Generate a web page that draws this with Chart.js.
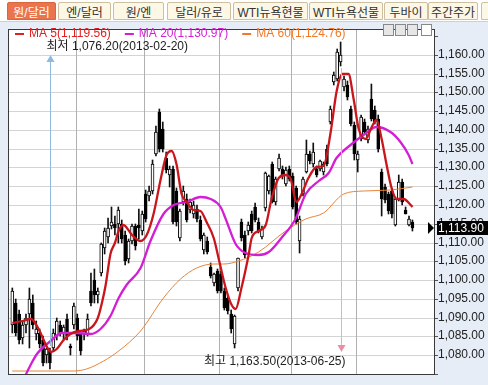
<!DOCTYPE html>
<html lang="ko">
<head>
<meta charset="utf-8">
<title>원/달러</title>
<script src="https://cdn.jsdelivr.net/npm/chart.js@4.4.1/dist/chart.umd.min.js"></script>
<style>
  body { margin: 0; background: #e7edf6; }
  #wrap { position: relative; width: 488px; height: 385px; overflow: hidden; }
  #myChart { position: absolute; left: 0; top: 0; }
  #tabs { position: absolute; left: 0; top: 0; width: 488px; height: 21px; background: #fff; border-bottom: 1px solid #cfcfcf; }
  .tab { position: absolute; top: 2px; height: 18px; line-height: 17px; box-sizing: border-box; border: 1px solid #cdbf9f; border-radius: 2px 2px 0 0; background: #fdf7e6; color: #333; font: 12px "Liberation Sans", "Noto Sans CJK KR", sans-serif; text-align: center; white-space: nowrap; overflow: hidden; }
  .tab.on { background: #e9744d; border-color: #d8663f; color: #fff; }
  .tool { position: absolute; top: 24px; width: 11px; height: 12px; box-sizing: border-box; border: 1px solid #888; background: #e6e6e6; }
  .tool.blank { background: #fff; }
</style>
</head>
<body>
<div id="wrap">
  <canvas id="myChart" width="488" height="385"></canvas>
  <div id="tabs"></div>
</div>
<script>
// daily candles, Feb 1 2013 .. Jul 23 2013 (trading days)
const opens = [
  1088, 1094, 1091, 1084.5, 1088, 1091, 1094, 1085.5, 1086, 1084,
  1080, 1081, 1082, 1085, 1088, 1086, 1089.5, 1082.5, 1088, 1090,
  1085.5, 1085.5, 1085.5, 1097, 1100, 1096, 1102, 1108.5, 1111.5, 1114.5,
  1115, 1115, 1115, 1112, 1105.5, 1110.5, 1114.3, 1114.8, 1113, 1123,
  1122.3, 1123.6, 1133.7, 1144.9, 1140.3, 1132.4, 1128.1, 1129.7, 1123.6, 1111.1,
  1120.9, 1121.7, 1118.8, 1117.5, 1119, 1116, 1108.1, 1110.3, 1103.6, 1099.1,
  1102.3, 1101.5, 1097, 1095.1, 1091, 1082.9, 1097.8, 1115.6, 1112.1, 1113,
  1117.7, 1119.6, 1115.6, 1111.6, 1119.1, 1123.6, 1130.8, 1120.9, 1129.7, 1129.7,
  1125.7, 1129.7, 1127.6, 1124.4, 1110.3, 1123, 1128.9, 1133.7, 1130.8, 1129.7,
  1129.7, 1128.9, 1135, 1142.2, 1152.8, 1153.6, 1158, 1151.5, 1152, 1145.6,
  1141.4, 1132.1, 1137.7, 1142.2, 1137.4, 1148.3, 1145.4, 1143, 1128.9, 1124.9,
  1122.8, 1123.6, 1114.8, 1121.7, 1126.2, 1118.8, 1114.8, 1115.6
];
const highs = [
  1098, 1095, 1092, 1089, 1091, 1098, 1096, 1089, 1087, 1085,
  1082, 1082, 1087, 1090, 1089, 1088, 1091, 1083, 1094, 1091,
  1086, 1087, 1091, 1102, 1103, 1098, 1110, 1114, 1116.5, 1119.6,
  1117, 1119.5, 1116, 1113, 1111, 1115, 1115, 1119, 1118.5, 1124,
  1125, 1132, 1141, 1145.5, 1142, 1134, 1130.5, 1130.5, 1124.5, 1119,
  1125, 1123, 1121.5, 1121, 1120, 1117, 1112.5, 1111.5, 1104.5, 1102,
  1103, 1102.5, 1098, 1096, 1092, 1090.8, 1106, 1116.4, 1113, 1115.5,
  1118.5, 1120.5, 1116.5, 1114.5, 1128.8, 1128, 1131.5, 1127.5, 1133.5, 1130.5,
  1130, 1130.5, 1128.5, 1125, 1117, 1127.5, 1137.4, 1134.5, 1136.4, 1130.5,
  1132, 1131.5, 1136, 1146.5, 1155.5, 1161.5, 1163.5, 1154.5, 1153, 1146.5,
  1142, 1134.5, 1144, 1143, 1141, 1152.3, 1146.5, 1144, 1129.5, 1125.5,
  1123.5, 1124.5, 1122, 1128, 1127, 1119.5, 1117, 1116
];
const lows = [
  1086, 1085, 1083, 1083, 1086, 1082, 1087, 1084, 1082, 1077,
  1078, 1076.2, 1081, 1084, 1085, 1084, 1084, 1080, 1087, 1084,
  1080, 1084, 1085, 1093, 1094, 1094, 1101, 1107, 1110, 1113.7,
  1112, 1110, 1110, 1104, 1104.5, 1109.5, 1108, 1111, 1112, 1115.5,
  1121, 1123, 1133, 1134, 1134, 1128.5, 1124.9, 1115, 1114.5, 1110.5,
  1120, 1115.5, 1118, 1116.5, 1115.5, 1110.5, 1107, 1107, 1100.5, 1098.5,
  1096.5, 1096.5, 1092, 1091, 1086, 1082, 1097, 1110.5, 1106, 1112,
  1112.5, 1115.5, 1112.5, 1111, 1118.5, 1123, 1120.5, 1120, 1129, 1127,
  1125, 1126.5, 1119, 1115, 1107.1, 1122.5, 1128.5, 1131, 1130, 1127.5,
  1129, 1128, 1130.5, 1141.5, 1152, 1153, 1157, 1150.5, 1148, 1141,
  1132.1, 1128.9, 1137, 1139, 1136.5, 1142.5, 1141.5, 1134, 1117, 1120.5,
  1117.5, 1116.5, 1114.3, 1121, 1120, 1117.5, 1114.5, 1113
];
const closes = [
  1097, 1086, 1084, 1088, 1090, 1095, 1088, 1087, 1083, 1078,
  1081.5, 1078, 1086, 1089, 1086, 1087.5, 1085, 1082, 1093, 1085,
  1081, 1086.5, 1089.5, 1094, 1096, 1097, 1109.5, 1113, 1114, 1115.5,
  1114, 1118.8, 1111, 1105, 1110.3, 1114.3, 1109, 1114, 1117.7, 1116.4,
  1123.6, 1131, 1139.5, 1135, 1135, 1129.4, 1129.7, 1115.6, 1115.6, 1118.3,
  1123.6, 1116.1, 1120.9, 1120, 1116.4, 1111, 1112.1, 1107.6, 1101, 1101.5,
  1097, 1097, 1092.5, 1091.7, 1087, 1090.3, 1105.8, 1111.1, 1106.8, 1114.8,
  1113, 1116.1, 1113, 1113.7, 1128.4, 1127.6, 1120.9, 1126.8, 1132.4, 1127.6,
  1129.4, 1127, 1119.6, 1115.6, 1116.4, 1126.8, 1133.7, 1131.6, 1134.2, 1128.1,
  1131.6, 1130.8, 1130.8, 1145.6, 1154.7, 1160.8, 1160, 1153.6, 1148.8, 1141.7,
  1133.7, 1133.7, 1143.5, 1139.5, 1140.3, 1143, 1142.2, 1135, 1121.7, 1121.4,
  1118.3, 1117.5, 1121.7, 1126.2, 1120.9, 1117.7, 1116.4, 1113.9
];

// moving averages (day index, value)
const ma5Days = [0, 3, 5.5, 7.7, 10, 11.3, 13, 15, 17, 19.5, 22.5, 25, 26.2, 27.3, 28.7, 30, 31.1, 32.5, 35, 37.5, 39.3, 41.3, 43.4, 45.1, 46.6, 48, 49.5, 51, 53, 55, 56.8, 58.9, 60.5, 62.4, 64, 65.3, 67, 69.1, 70, 72, 74.1, 75.8, 77.9, 79.9, 81.4, 83.1, 84.6, 86.6, 89, 91, 93.1, 94.8, 96.5, 98.3, 99.8, 101.3, 103.3, 105.1, 106.5, 108, 109.4, 110.9, 112.4, 114.4, 116.5, 117];
const ma5Vals = [1088.5, 1089, 1089.5, 1087, 1082.5, 1080.8, 1081.5, 1084, 1085.5, 1086.3, 1086.9, 1090, 1094, 1098.8, 1107, 1110, 1113, 1114.8, 1112, 1110.3, 1112.1, 1117.5, 1127, 1133.4, 1134.5, 1130.8, 1122.8, 1120.9, 1118.8, 1118.3, 1115.6, 1111.1, 1105, 1097.8, 1093.5, 1092.2, 1097.8, 1106.8, 1111.1, 1113, 1114.8, 1121.7, 1127.1, 1128.1, 1126.8, 1120.9, 1122.8, 1127.1, 1130.2, 1130.5, 1139.5, 1150.2, 1155, 1155, 1148.3, 1140.3, 1137.7, 1140.9, 1142.7, 1137.7, 1130.8, 1124.4, 1121.7, 1121.7, 1120.1, 1119.56];
const ma20Days = [2.5, 3.8, 5.5, 7.2, 11.2, 14.4, 18.8, 22.9, 25.8, 28.7, 31.1, 33.4, 37.5, 40.4, 44.2, 47.2, 51, 55, 58, 60.9, 62.4, 65.3, 68.2, 72, 75, 78.7, 82.8, 85.8, 89.6, 92.5, 94.8, 98.9, 102.7, 106.5, 110.6, 113.5, 115.9, 117];
const ma20Vals = [1071, 1074.4, 1077.5, 1080.2, 1083.7, 1085.8, 1085.8, 1085.5, 1086.9, 1090.3, 1095.1, 1098.8, 1103.1, 1110.3, 1117.5, 1120.1, 1120.9, 1122, 1121.7, 1119.6, 1116.4, 1109.5, 1107.1, 1106.8, 1107.6, 1111.1, 1116.4, 1122.8, 1126.3, 1128.4, 1132.4, 1136.1, 1138.7, 1140.9, 1139.5, 1136.9, 1133.4, 1130.97];
const ma60Days = [0, 10, 18, 21.7, 26.7, 31.1, 37.5, 44.2, 49.2, 53.9, 58.9, 61.8, 66.2, 72, 79.9, 85.8, 91, 96.9, 102.7, 110.6, 117];
const ma60Vals = [1075.7, 1075.7, 1075.8, 1076.3, 1078.4, 1081, 1086.3, 1095.1, 1100.4, 1103.1, 1104.2, 1104.4, 1105, 1107.6, 1113, 1116.4, 1117.9, 1122.8, 1123.8, 1124.1, 1124.76];

// x axis: first trading day of each month
const monthStarts = [0, 19, 39, 61, 82, 101];
const monthLabels = ["2013/02", "03", "04", "05", "06", "07"];
const lowDate = "2013-02-20";
const highDate = "2013-06-25";

const tabNames = ["원/달러", "엔/달러", "원/엔", "달러/유로", "WTI뉴욕현물", "WTI뉴욕선물", "두바이", "주간주가", ""];
const tabBoxes = [[7, 49], [58, 53], [113, 51], [167, 64], [233, 75], [309, 74], [384, 44], [428, 50], [481, 20]];

const tabs = document.getElementById("tabs");
tabNames.forEach((name, i) => {
  const d = document.createElement("div");
  d.className = "tab" + (i === 0 ? " on" : "");
  d.style.left = tabBoxes[i][0] + "px";
  d.style.width = tabBoxes[i][1] + "px";
  d.textContent = name;
  tabs.appendChild(d);
});
[383, 395, 407, 421].forEach((left, i) => {
  const b = document.createElement("div");
  b.className = "tool" + (i === 3 ? " blank" : "");
  b.style.left = left + "px";
  document.getElementById("wrap").appendChild(b);
});

const FONT = '"Liberation Sans", "Noto Sans CJK KR", sans-serif';
const fmt = (v) => v.toLocaleString("en-US", { minimumFractionDigits: 2, maximumFractionDigits: 2 });
const pairs = (xs, ys) => xs.map((d, i) => ({ x: d, y: ys[i] }));

const days = closes.map((c, i) => i);
const wickData = days.map((i) => ({ x: i, y: [lows[i], highs[i]] }));
const bodyData = days.map((i) => ({ x: i, y: [opens[i], closes[i]] }));
const bodyColors = days.map((i) => (closes[i] >= opens[i] ? "#ffffff" : "#000000"));

const chartDecor = {
  id: "chartDecor",
  beforeDraw(chart) {
    const { ctx, chartArea: a } = chart;
    ctx.save();
    ctx.fillStyle = "#ffffff";
    ctx.fillRect(a.left, a.top, a.right - a.left, a.bottom - a.top);
    ctx.restore();
  },
  beforeDatasetsDraw(chart) {
    // month separators
    const { ctx, chartArea: a } = chart;
    const xs = chart.scales.x;
    ctx.save();
    ctx.strokeStyle = "#b0b0b0";
    ctx.lineWidth = 1;
    monthStarts.slice(1).forEach((d) => {
      const px = Math.round(xs.getPixelForValue(d - 0.5)) + 0.5;
      ctx.beginPath();
      ctx.moveTo(px, a.top);
      ctx.lineTo(px, a.bottom);
      ctx.stroke();
    });
    ctx.restore();
  },
  afterDraw(chart) {
    const { ctx, chartArea: a } = chart;
    const xs = chart.scales.x;
    const ys = chart.scales.y;
    ctx.save();

    // frame
    ctx.strokeStyle = "#3a3a3a";
    ctx.lineWidth = 1;
    ctx.strokeRect(a.left + 0.5, a.top + 0.5, a.right - a.left - 1, a.bottom - a.top - 1);

    // legend
    ctx.font = "12px " + FONT;
    ctx.textBaseline = "middle";
    ctx.textAlign = "left";
    const items = [
      ["MA 5", ma5Vals, "#e02020"],
      ["MA 20", ma20Vals, "#d41ed4"],
      ["MA 60", ma60Vals, "#f07a2a"],
    ];
    let lx = a.left + 7;
    const ly = a.top + 5;
    items.forEach(([name, vals, color]) => {
      const text = name + "(" + fmt(vals[vals.length - 1]) + ")";
      ctx.strokeStyle = color;
      ctx.lineWidth = 2;
      ctx.beginPath();
      ctx.moveTo(lx, ly);
      ctx.lineTo(lx + 9, ly);
      ctx.stroke();
      ctx.fillStyle = color;
      ctx.fillText(text, lx + 14, ly);
      lx += 14 + ctx.measureText(text).width + 14;
    });

    // lowest
    const iLow = lows.indexOf(Math.min(...lows));
    const lowX = Math.round(xs.getPixelForValue(iLow)) + 0.5;
    ctx.strokeStyle = "#8fb9de";
    ctx.fillStyle = "#8fb9de";
    ctx.lineWidth = 1;
    ctx.beginPath();
    ctx.moveTo(lowX, 62);
    ctx.lineTo(lowX, ys.getPixelForValue(highs[iLow]) - 2);
    ctx.stroke();
    ctx.beginPath();
    ctx.moveTo(lowX - 4, 62);
    ctx.lineTo(lowX + 4, 62);
    ctx.lineTo(lowX, 55);
    ctx.closePath();
    ctx.fill();
    ctx.fillStyle = "#222";
    ctx.fillText("최저 " + fmt(lows[iLow]) + "(" + lowDate + ")", lowX - 4, 47);

    // highest
    const iHigh = highs.indexOf(Math.max(...highs));
    const highX = Math.round(xs.getPixelForValue(iHigh)) + 0.5;
    ctx.strokeStyle = "#f2a9bb";
    ctx.fillStyle = "#ec8fa4";
    ctx.beginPath();
    ctx.moveTo(highX, ys.getPixelForValue(lows[iHigh]) + 2);
    ctx.lineTo(highX, 345);
    ctx.stroke();
    ctx.beginPath();
    ctx.moveTo(highX - 4, 345);
    ctx.lineTo(highX + 4, 345);
    ctx.lineTo(highX, 352);
    ctx.closePath();
    ctx.fill();
    ctx.fillStyle = "#222";
    ctx.textAlign = "right";
    ctx.fillText("최고 " + fmt(highs[iHigh]) + "(" + highDate + ")", highX + 4, 362);

    // last price tag
    const last = closes[closes.length - 1];
    const py = Math.round(ys.getPixelForValue(last));
    ctx.fillStyle = "#000";
    ctx.fillRect(a.right + 2, py - 7, 60, 14);
    ctx.beginPath();
    ctx.moveTo(a.right - 7, py - 6);
    ctx.lineTo(a.right - 1, py);
    ctx.lineTo(a.right - 7, py + 6);
    ctx.closePath();
    ctx.fill();
    ctx.fillStyle = "#fff";
    ctx.textAlign = "left";
    ctx.fillText(fmt(last), a.right + 3, py + 1);

    ctx.restore();
  },
};

Chart.defaults.font.family = FONT;

const myChart = new Chart(document.getElementById("myChart").getContext("2d"), {
  type: "bar",
  data: {
    datasets: [
      {
        type: "line",
        label: "MA 5",
        data: pairs(ma5Days, ma5Vals),
        borderColor: "#c8161c",
        borderWidth: 2.3,
        pointRadius: 0,
        cubicInterpolationMode: "monotone",
        order: 0,
      },
      {
        type: "line",
        label: "MA 20",
        data: pairs(ma20Days, ma20Vals),
        borderColor: "#d41ed4",
        borderWidth: 2.3,
        pointRadius: 0,
        cubicInterpolationMode: "monotone",
        order: 0.1,
      },
      {
        type: "line",
        label: "MA 60",
        data: pairs(ma60Days, ma60Vals),
        borderColor: "#e8843a",
        borderWidth: 1,
        pointRadius: 0,
        cubicInterpolationMode: "monotone",
        order: 0.2,
      },
      {
        label: "body",
        data: bodyData,
        backgroundColor: bodyColors,
        borderColor: "#000",
        borderWidth: 1,
        borderSkipped: false,
        barThickness: 3,
        minBarLength: 1,
        grouped: false,
        order: 1,
      },
      {
        label: "wick",
        data: wickData,
        backgroundColor: "#111",
        borderWidth: 0,
        barThickness: 1,
        grouped: false,
        order: 2,
      },
    ],
  },
  options: {
    responsive: false,
    animation: false,
    devicePixelRatio: 1,
    layout: { padding: { left: 8, top: 29, right: 0, bottom: 0 } },
    plugins: {
      legend: { display: false },
      tooltip: { enabled: false },
    },
    scales: {
      x: {
        type: "linear",
        offset: false,
        min: -1.26,
        max: 123.6,
        afterBuildTicks: (s) => {
          s.ticks = monthStarts.map((d) => ({ value: d - 0.5 }));
        },
        afterFit: (s) => {
          s.height = 10;
        },
        ticks: {
          autoSkip: false,
          maxRotation: 0,
          align: "start",
          padding: 0,
          color: "#111",
          font: (c) => ({ family: FONT, size: 13, weight: c.index === 0 ? "bold" : "normal" }),
          callback: (v) => {
            const k = monthStarts.indexOf(v + 0.5);
            return k >= 0 ? monthLabels[k] : "";
          },
        },
        grid: { display: false },
        border: { display: false },
      },
      y: {
        position: "right",
        min: 1074.7,
        max: 1166.9,
        alignToPixels: true,
        afterFit: (s) => {
          s.width = 53;
        },
        ticks: {
          stepSize: 5,
          includeBounds: false,
          padding: 0,
          color: "#222",
          font: { family: FONT, size: 12 },
          callback: (v) => (v < 1080 || v > 1160 ? "" : fmt(v)),
        },
        grid: {
          color: (c) => (c.tick && (c.tick.value < 1080 || c.tick.value > 1160) ? "rgba(0,0,0,0)" : "#d4d4d4"),
          tickLength: 3,
          tickColor: "#555",
        },
        border: { display: false },
      },
    },
  },
  plugins: [chartDecor],
});
</script>
</body>
</html>
